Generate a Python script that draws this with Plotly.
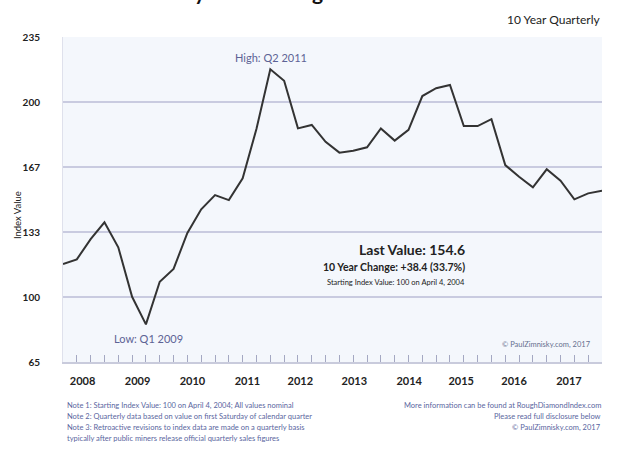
import plotly.graph_objects as go

# ---- data ----
quarters = [
    "Q3 2007", "Q4 2007", "Q1 2008", "Q2 2008", "Q3 2008", "Q4 2008",
    "Q1 2009", "Q2 2009", "Q3 2009", "Q4 2009", "Q1 2010", "Q2 2010",
    "Q3 2010", "Q4 2010", "Q1 2011", "Q2 2011", "Q3 2011", "Q4 2011",
    "Q1 2012", "Q2 2012", "Q3 2012", "Q4 2012", "Q1 2013", "Q2 2013",
    "Q3 2013", "Q4 2013", "Q1 2014", "Q2 2014", "Q3 2014", "Q4 2014",
    "Q1 2015", "Q2 2015", "Q3 2015", "Q4 2015", "Q1 2016", "Q2 2016",
    "Q3 2016", "Q4 2016", "Q1 2017", "Q2 2017",
]
index_values = [
    116.2, 118.7, 129.3, 138.1, 125.0, 99.1,
    84.7, 107.0, 113.7, 132.5, 144.9, 152.3,
    149.7, 161.1, 187.0, 218.1, 212.1, 187.2,
    189.0, 180.2, 174.5, 175.5, 177.3, 187.2,
    180.8, 186.4, 204.1, 208.2, 209.9, 188.4,
    188.4, 192.0, 168.0, 161.9, 156.4, 165.8,
    159.8, 150.1, 153.2, 154.6,
]
year_labels = ["2008", "2009", "2010", "2011", "2012",
               "2013", "2014", "2015", "2016", "2017"]
year_label_pos = [1.42, 5.40, 9.37, 13.35, 17.17, 21.08, 25.05, 28.81, 32.64, 36.61]
y_tick_vals = [65, 99, 133, 167, 201, 235]
y_tick_text = ["65", "100", "133", "167", "200", "235"]

FONT = "Lato"
NOTE_COLOR = "#5a66a0"

x_idx = list(range(len(quarters)))

fig = go.Figure()
fig.add_trace(go.Scatter(
    x=x_idx, y=index_values, mode="lines",
    line=dict(color="#333333", width=2),
    customdata=quarters,
    hovertemplate="%{customdata}: %{y}<extra></extra>",
    showlegend=False,
))
# invisible trace on the overlay axis that carries the quarterly tick marks
fig.add_trace(go.Scatter(
    x=x_idx, y=index_values, mode="lines", xaxis="x2",
    line=dict(color="rgba(0,0,0,0)", width=0),
    hoverinfo="skip", showlegend=False,
))

fig.update_layout(
    width=635, height=452,
    margin=dict(l=63, r=33, t=37, b=90, autoexpand=False),
    paper_bgcolor="white",
    plot_bgcolor="#f4f7fc",
    font=dict(family=FONT, color="#222222"),
    xaxis=dict(
        range=[0, 39], automargin=False,
        tickmode="array", tickvals=year_label_pos, ticktext=year_labels,
        tickfont=dict(size=11, family=FONT, color="#222222", weight="bold"),
        ticks="outside", ticklen=8, tickcolor="rgba(0,0,0,0)",
        showgrid=False, zeroline=False,
        showline=True, linecolor="#c9cbdc", linewidth=1.5,
    ),
    xaxis2=dict(
        overlaying="x", anchor="y", side="bottom", range=[0, 39],
        automargin=False,
        tickmode="array", tickvals=x_idx, showticklabels=False,
        ticks="inside", ticklen=7, tickcolor="#a4a8c2", tickwidth=1,
        showgrid=False, zeroline=False, showline=False,
    ),
    yaxis=dict(
        range=[65, 235], automargin=False,
        tickmode="array", tickvals=y_tick_vals, ticktext=y_tick_text,
        tickfont=dict(size=10, family=FONT, color="#222222", weight="bold"),
        ticks="outside", ticklen=20, tickcolor="rgba(0,0,0,0)",
        showgrid=True, gridcolor="#c9cbe0", gridwidth=1.5,
        zeroline=False,
        showline=True, linecolor="#dfe1ec", linewidth=1,
    ),
)

ann = []
def add(text, x, y, size, color="#222222", xanchor="center", yanchor="middle",
        weight="normal", xref="paper", yref="paper", textangle=0):
    ann.append(dict(text=text, x=x, y=y, xref=xref, yref=yref, showarrow=False,
                    xanchor=xanchor, yanchor=yanchor, textangle=textangle,
                    font=dict(size=size, color=color, family=FONT, weight=weight)))

# title, cut off at the very top as in the reference
ann.append(dict(text="Zimnisky Global Rough Diamond Price Index", x=0.49, y=1.0,
                xref="paper", yref="paper", yanchor="bottom", xanchor="center",
                yshift=31, showarrow=False,
                font=dict(size=21, color="#111111", family=FONT, weight="bold")))
add("Index Value", -0.0853, 0.452, 9.5, textangle=-90)
add("10 Year Quarterly", 1.002, 1.055, 12, xanchor="right")
add("High: Q2 2011", 0.386, 0.938, 11, color="#5d6395")
add("Low: Q1 2009", 0.158, 0.071, 11, color="#5d6395")
add("Last Value: 154.6", 0.7495, 0.345, 14, xanchor="right", weight="bold")
add("10 Year Change: +38.4 (33.7%)", 0.7495, 0.292, 10.5, xanchor="right", weight="bold")
add("Starting Index Value: 100 on April 4, 2004", 0.7495, 0.246, 7.5, xanchor="right")
add("\u00a9 PaulZimnisky.com, 2017", 0.983, 0.055, 7.5, color="#66708f", xanchor="right")

left_notes = [
    "Note 1: Starting Index Value: 100 on April 4, 2004; All values nominal",
    "Note 2: Quarterly data based on value on first Saturday of calendar quarter",
    "Note 3: Retroactive revisions to index data are made on a quarterly basis",
    "typically after public miners release official quarterly sales figures",
]
right_notes = [
    "More information can be found at RoughDiamondIndex.com",
    "Please read full disclosure below",
    "\u00a9 PaulZimnisky.com, 2017",
]
note_y = [-0.135, -0.167, -0.200, -0.234]
for t, yy in zip(left_notes, note_y):
    add(t, 0.004, yy, 7.5, color=NOTE_COLOR, xanchor="left")
for t, yy in zip(right_notes, note_y):
    add(t, 1.002, yy, 7.5, color=NOTE_COLOR, xanchor="right")

fig.update_layout(annotations=ann)
fig.write_html("out.html")
